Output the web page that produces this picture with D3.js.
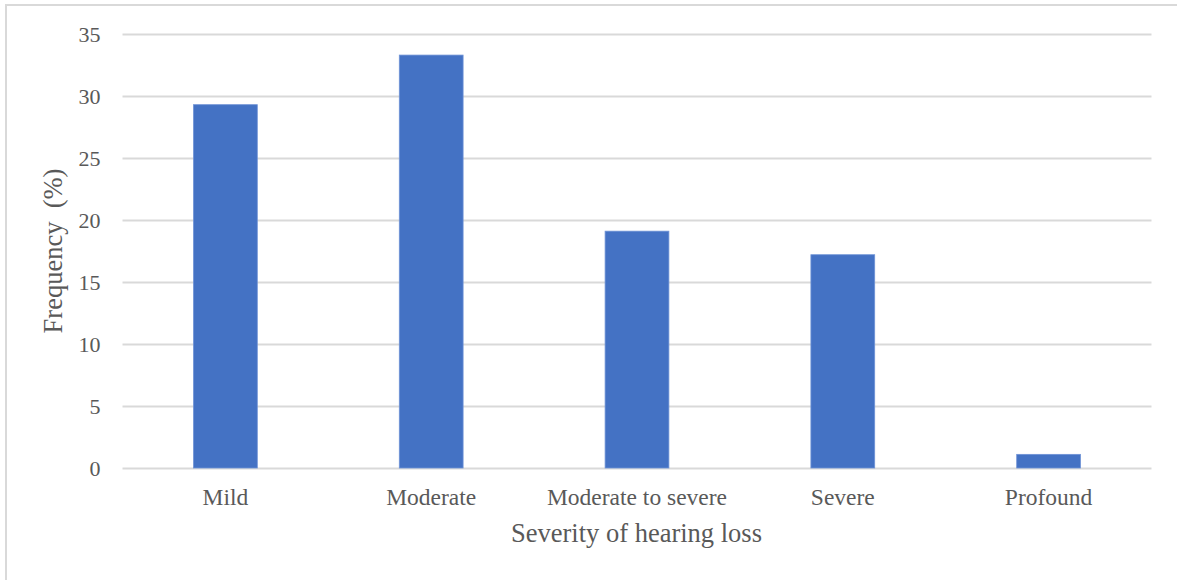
<!DOCTYPE html>
<html>
<head>
<meta charset="utf-8">
<script src="https://cdn.jsdelivr.net/npm/d3@7"></script>
<style>
  html, body { margin: 0; padding: 0; background: #ffffff; }
  svg { display: block; }
  text { font-family: "Liberation Serif", "Times New Roman", serif; fill: #595959; }
</style>
</head>
<body>
<script>
// Distribution of hearing-loss severity (% of cases)
const categories = ["Mild", "Moderate", "Moderate to severe", "Severe", "Profound"];
const frequency = [29.3, 33.3, 19.1, 17.2, 1.1];
const yTicks = [0, 5, 10, 15, 20, 25, 30, 35];
const xTitle = "Severity of hearing loss";
const yTitle = "Frequency  (%)";

const W = 1177, H = 580;
const plot = { left: 122.5, right: 1151.5, top: 34, bottom: 468 };

const svg = d3.select("body").append("svg")
  .attr("width", W).attr("height", H);

// chart frame
svg.append("rect")
  .attr("x", 6).attr("y", 5)
  .attr("width", W + 20).attr("height", H + 20)
  .attr("fill", "none")
  .attr("stroke", "#d9d9d9")
  .attr("stroke-width", 2);

const x = d3.scaleBand()
  .domain(categories)
  .range([plot.left, plot.right])
  .paddingInner(0.69)
  .paddingOuter(0.345);

const y = d3.scaleLinear()
  .domain([0, 35])
  .range([plot.bottom, plot.top]);

// horizontal gridlines + tick labels
const yAxis = d3.axisLeft(y)
  .tickValues(yTicks)
  .tickSize(-(plot.right - plot.left))
  .tickPadding(22)
  .tickFormat(d3.format("d"));

const gy = svg.append("g")
  .attr("transform", `translate(${plot.left},0)`)
  .call(yAxis);
gy.select(".domain").remove();
gy.selectAll(".tick line")
  .attr("stroke", "#d9d9d9")
  .attr("stroke-width", 1.8);
gy.selectAll(".tick text")
  .attr("font-size", 22)
  .attr("fill", "#595959")
  .attr("font-family", "Liberation Serif, Times New Roman, serif");

// bars
svg.append("g")
  .selectAll("rect")
  .data(categories.map((c, i) => ({ c, v: frequency[i] })))
  .join("rect")
  .attr("x", d => x(d.c))
  .attr("width", x.bandwidth())
  .attr("y", d => y(d.v))
  .attr("height", d => y(0) - y(d.v))
  .attr("fill", "#4472c4")
  .attr("stroke", "#6f93d6")
  .attr("stroke-width", 0.8);

// category labels
const xAxis = d3.axisBottom(x).tickSize(0).tickPadding(0);
const gx = svg.append("g")
  .attr("transform", `translate(0,${plot.bottom})`)
  .call(xAxis);
gx.select(".domain").remove();
gx.selectAll(".tick text")
  .attr("dy", null)
  .attr("y", 37)
  .attr("font-size", 23.5)
  .attr("fill", "#595959")
  .attr("font-family", "Liberation Serif, Times New Roman, serif");

// axis titles
svg.append("text")
  .attr("x", (plot.left + plot.right) / 2 - 0.5)
  .attr("y", 542)
  .attr("text-anchor", "middle")
  .attr("font-size", 26.5)
  .text(xTitle);

svg.append("text")
  .attr("transform", `translate(62,${(plot.top + plot.bottom) / 2}) rotate(-90)`)
  .attr("text-anchor", "middle")
  .attr("font-size", 26.5)
  .style("white-space", "pre")
  .text(yTitle);
</script>
</body>
</html>
